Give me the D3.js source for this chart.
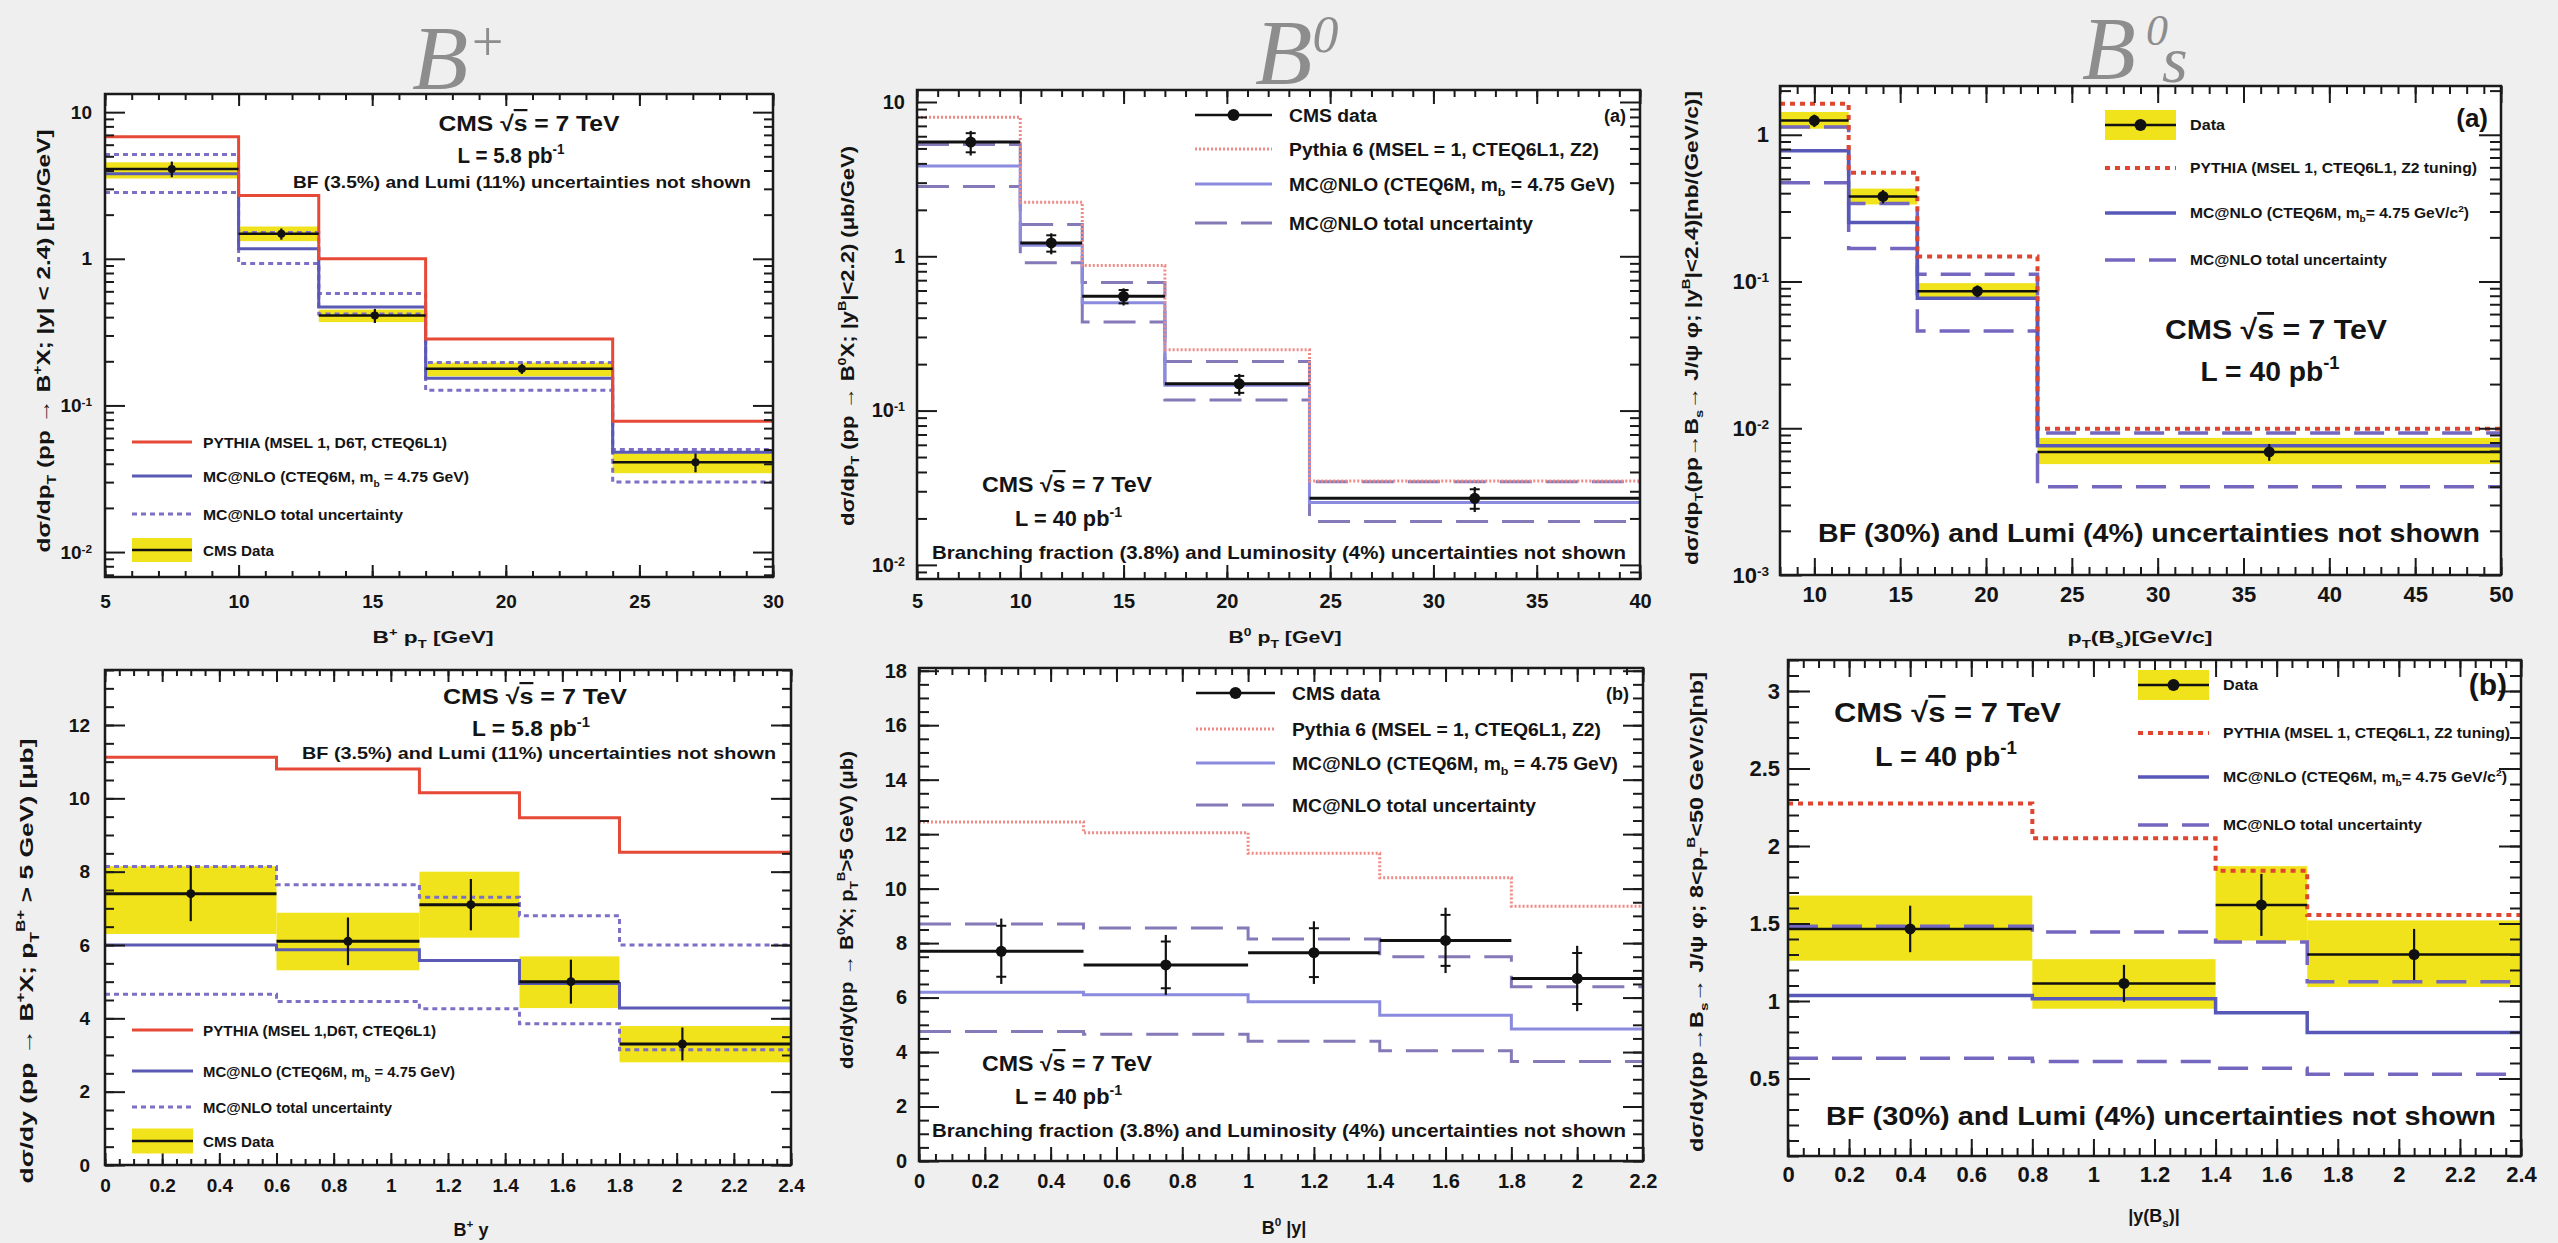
<!DOCTYPE html>
<html>
<head>
<meta charset="utf-8">
<script src="https://cdn.jsdelivr.net/npm/d3@7"></script>
<style>
  html, body { margin: 0; padding: 0; background: #efefef; }
  svg { display: block; }
  text { font-family: "Liberation Sans", Arial, Helvetica, sans-serif; font-weight: bold; fill: #141414; }
  text.ptitle { font-family: "Liberation Serif", "Times New Roman", serif; font-style: italic; font-weight: normal; fill: #8d8d8d; }
</style>
</head>
<body>
<svg id="chart" width="2558" height="1243"></svg>
<script>
// CMS B-meson cross sections: B+, B0, Bs vs pT (top) and vs rapidity (bottom).
// Values.

// ---- B+ vs pT ----
const bpPtEdges = [5, 10, 13, 17, 24, 30];
const bpPtPythia = [6.8, 2.7, 1.0, 0.284, 0.078];
const bpPtNlo = [3.8, 1.17, 0.47, 0.153, 0.048];
const bpPtNloUp = [5.15, 1.51, 0.58, 0.196, 0.050];
const bpPtNloDn = [2.83, 0.93, 0.42, 0.127, 0.030];
const bpPtX = [7.5, 11.6, 15.1, 20.6, 27.1];
const bpPtData = [4.1, 1.48, 0.41, 0.178, 0.041];
const bpPtErr = [0.5, 0.13, 0.045, 0.014, 0.006];
const bpPtSysDn = [3.53, 1.32, 0.37, 0.158, 0.0345];
const bpPtSysUp = [4.55, 1.66, 0.45, 0.196, 0.047];

// ---- B0 vs pT ----
const b0PtEdges = [5, 10, 13, 17, 24, 40];
const b0PtPythia = [7.95, 2.24, 0.87, 0.248, 0.0349];
const b0PtNlo = [3.85, 1.18, 0.50, 0.146, 0.0254];
const b0PtNloUp = [5.3, 1.61, 0.676, 0.208, 0.0346];
const b0PtNloDn = [2.83, 0.908, 0.375, 0.117, 0.0191];
const b0PtX = [7.6, 11.5, 15.0, 20.6, 32.0];
const b0PtData = [5.5, 1.22, 0.55, 0.149, 0.027];
const b0PtErr = [1.0, 0.19, 0.07, 0.024, 0.005];

// ---- Bs vs pT ----
const bsPtEdges = [8, 12, 16, 23, 50];
const bsPtPythia = [1.63, 0.552, 0.148, 0.00994];
const bsPtNlo = [0.778, 0.252, 0.077, 0.0076];
const bsPtNloUp = [1.13, 0.34, 0.112, 0.0093];
const bsPtNloDn = [0.472, 0.168, 0.046, 0.0040];
const bsPtX = [10, 14, 19.5, 36.5];
const bsPtData = [1.25, 0.38, 0.086, 0.0069];
const bsPtErr = [0.12, 0.04, 0.008, 0.0009];
const bsPtSysDn = [1.10, 0.335, 0.076, 0.0057];
const bsPtSysUp = [1.43, 0.43, 0.0975, 0.0086];

// ---- B+ vs y ----
const bpYEdges = [0, 0.6, 1.1, 1.45, 1.8, 2.4];
const bpYPythia = [11.12, 10.8, 10.15, 9.47, 8.53];
const bpYNlo = [6.0, 5.87, 5.58, 4.95, 4.28];
const bpYNloUp = [8.14, 7.64, 7.3, 6.8, 6.0];
const bpYNloDn = [4.66, 4.46, 4.26, 3.85, 3.14];
const bpYX = [0.3, 0.85, 1.28, 1.63, 2.02];
const bpYData = [7.4, 6.1, 7.1, 5.0, 3.3];
const bpYErr = [0.75, 0.65, 0.7, 0.6, 0.45];
const bpYSysDn = [6.3, 5.31, 6.2, 4.28, 2.8];
const bpYSysUp = [8.15, 6.88, 8.0, 5.69, 3.79];

// ---- B0 vs |y| ----
const b0YEdges = [0, 0.5, 1.0, 1.4, 1.8, 2.2];
const b0YPythia = [12.45, 12.05, 11.3, 10.4, 9.35];
const b0YNlo = [6.2, 6.1, 5.85, 5.35, 4.85];
const b0YNloUp = [8.7, 8.55, 8.15, 7.5, 6.4];
const b0YNloDn = [4.75, 4.65, 4.4, 4.05, 3.65];
const b0YX = [0.25, 0.75, 1.2, 1.6, 2.0];
const b0YData = [7.7, 7.2, 7.65, 8.1, 6.7];
const b0YErr = [1.2, 1.1, 1.15, 1.2, 1.2];

// ---- Bs vs |y| ----
const bsYEdges = [0, 0.8, 1.4, 1.7, 2.4];
const bsYPythia = [2.275, 2.05, 1.84, 1.555];
const bsYNlo = [1.036, 1.015, 0.925, 0.797];
const bsYNloUp = [1.483, 1.445, 1.38, 1.124];
const bsYNloDn = [0.63, 0.609, 0.566, 0.527];
const bsYX = [0.4, 1.1, 1.55, 2.05];
const bsYData = [1.465, 1.113, 1.62, 1.30];
const bsYErr = [0.15, 0.12, 0.2, 0.165];
const bsYSysDn = [1.26, 0.95, 1.39, 1.09];
const bsYSysUp = [1.68, 1.27, 1.87, 1.52];

const svg = d3.select('#chart');
const YELLOW = '#f1e31b';

// Build text with ^{sup}, _{sub} and ~{overline} pieces
function richText(sel, str, size) {
  const parts = str.split(/(\^\{[^}]*\}|_\{[^}]*\}|~\{[^}]*\})/).filter(s => s.length);
  let shift = 0;
  parts.forEach(s => {
    let target = 0, fs = size, t = s, deco = null;
    if (s.startsWith('^{')) { t = s.slice(2, -1); target = -0.42 * size; fs = 0.65 * size; }
    else if (s.startsWith('_{')) { t = s.slice(2, -1); target = 0.3 * size; fs = 0.65 * size; }
    else if (s.startsWith('~{')) { t = s.slice(2, -1); deco = 'overline'; }
    const ts = sel.append('tspan').attr('font-size', fs).text(t);
    if (target - shift !== 0) ts.attr('dy', target - shift);
    if (deco) ts.style('text-decoration', deco);
    shift = target;
  });
}

function label(parent, x, y, str, size, opt = {}) {
  const t = parent.append('text')
    .attr('x', x).attr('y', y)
    .attr('font-size', size)
    .attr('text-anchor', opt.anchor || 'start');
  if (opt.rotate) t.attr('transform', `rotate(-90,${x},${y})`);
  richText(t, str, size);
  if (opt.width) t.attr('textLength', opt.width).attr('lengthAdjust', 'spacingAndGlyphs');
  return t;
}

function steps(a, b, s) {
  const n = Math.round((b - a) / s);
  return d3.range(0, n + 1).map(i => +(a + i * s).toFixed(6));
}

function logMajor(dom) {
  const out = [];
  for (let e = Math.ceil(Math.log10(dom[0]) - 1e-9); e <= Math.floor(Math.log10(dom[1]) + 1e-9); e++) out.push(Math.pow(10, e));
  return out;
}

function logMinor(dom) {
  const out = [];
  for (let e = Math.floor(Math.log10(dom[0])); e <= Math.ceil(Math.log10(dom[1])); e++) {
    for (let k = 2; k <= 9; k++) {
      const v = k * Math.pow(10, e);
      if (v >= dom[0] && v <= dom[1]) out.push(v);
    }
  }
  return out;
}

function drawPanel(cfg) {
  const [x0, y0, x1, y1] = cfg.frame;
  const x = d3.scaleLinear().domain(cfg.xDomain).range([x0, x1]);
  const y = (cfg.yLog ? d3.scaleLog() : d3.scaleLinear()).domain(cfg.yDomain).range([y1, y0]).clamp(true);
  const g = svg.append('g');
  g.append('rect').attr('x', x0).attr('y', y0).attr('width', x1 - x0).attr('height', y1 - y0).attr('fill', '#fff');
  const plot = g.append('g');
  const axes = g.append('g');
  const p = { x, y, g, plot, axes, cfg };
  drawAxes(p);
  return p;
}

function drawAxes(p) {
  const { x, y, axes, cfg } = p;
  const [x0, y0, x1, y1] = cfg.frame;
  const xMaj = cfg.xMajor, xMin = cfg.xMinor;
  const yMaj = cfg.yLog ? logMajor(cfg.yDomain) : cfg.yMajor;
  const yMin = cfg.yLog ? logMinor(cfg.yDomain) : cfg.yMinor;
  const fmt = d => String(+d.toFixed(2));

  axes.append('g').attr('transform', `translate(0,${y1})`)
    .call(d3.axisBottom(x).tickValues(xMaj).tickSize(-cfg.xTick[0]).tickPadding(cfg.xPad).tickFormat(fmt));
  axes.append('g').attr('transform', `translate(0,${y1})`)
    .call(d3.axisBottom(x).tickValues(xMin).tickSize(-cfg.xTick[1]).tickFormat(''));
  axes.append('g').attr('transform', `translate(0,${y0})`)
    .call(d3.axisTop(x).tickValues(xMaj).tickSize(-cfg.xTick[0]).tickFormat(''));
  axes.append('g').attr('transform', `translate(0,${y0})`)
    .call(d3.axisTop(x).tickValues(xMin).tickSize(-cfg.xTick[1]).tickFormat(''));

  const left = axes.append('g').attr('transform', `translate(${x0},0)`)
    .call(d3.axisLeft(y).tickValues(yMaj).tickSize(-cfg.yTick[0]).tickPadding(cfg.yPad).tickFormat(fmt));
  axes.append('g').attr('transform', `translate(${x0},0)`)
    .call(d3.axisLeft(y).tickValues(yMin).tickSize(-cfg.yTick[1]).tickFormat(''));
  axes.append('g').attr('transform', `translate(${x1},0)`)
    .call(d3.axisRight(y).tickValues(yMaj).tickSize(-cfg.yTick[0]).tickFormat(''));
  axes.append('g').attr('transform', `translate(${x1},0)`)
    .call(d3.axisRight(y).tickValues(yMin).tickSize(-cfg.yTick[1]).tickFormat(''));

  axes.selectAll('.domain').remove();
  axes.selectAll('g').attr('font-family', null).attr('font-size', null);
  axes.selectAll('line').attr('stroke', '#1a1a1a').attr('stroke-width', 2);
  axes.selectAll('.tick text').attr('fill', '#141414').attr('font-size', cfg.labelSize);

  if (cfg.yLog) {
    left.selectAll('.tick text').each(function(d) {
      const e = Math.round(Math.log10(d));
      if (e === 0 || e === 1) return;
      const t = d3.select(this).text('');
      t.append('tspan').text('10');
      t.append('tspan').attr('dy', '-0.5em').attr('font-size', cfg.labelSize * 0.62).text(String(e));
    });
  }

  axes.append('rect').attr('x', x0).attr('y', y0).attr('width', x1 - x0).attr('height', y1 - y0)
    .attr('fill', 'none').attr('stroke', '#1a1a1a').attr('stroke-width', 2.5);
}

function histo(p, edges, vals, st) {
  const pts = edges.map((e, i) => [e, vals[Math.min(i, vals.length - 1)]]);
  const line = d3.line().x(d => p.x(d[0])).y(d => p.y(d[1])).curve(d3.curveStepAfter);
  p.plot.append('path').attr('d', line(pts))
    .attr('fill', 'none').attr('stroke', st.color).attr('stroke-width', st.width)
    .attr('stroke-dasharray', st.dash || null);
}

function bands(p, edges, lo, hi) {
  p.plot.append('g').selectAll('rect').data(lo).join('rect')
    .attr('x', (d, i) => p.x(edges[i]))
    .attr('width', (d, i) => p.x(edges[i + 1]) - p.x(edges[i]))
    .attr('y', (d, i) => p.y(hi[i]))
    .attr('height', (d, i) => p.y(lo[i]) - p.y(hi[i]))
    .attr('fill', YELLOW);
}

function points(p, edges, xs, vals, errs, opt) {
  const g = p.plot.append('g');
  g.selectAll('line.bin').data(vals).join('line').attr('class', 'bin')
    .attr('x1', (d, i) => p.x(edges[i])).attr('x2', (d, i) => p.x(edges[i + 1]))
    .attr('y1', d => p.y(d)).attr('y2', d => p.y(d))
    .attr('stroke', '#111').attr('stroke-width', opt.lineW);
  g.selectAll('line.err').data(vals).join('line').attr('class', 'err')
    .attr('x1', (d, i) => p.x(xs[i])).attr('x2', (d, i) => p.x(xs[i]))
    .attr('y1', (d, i) => p.y(d + errs[i])).attr('y2', (d, i) => p.y(d - errs[i]))
    .attr('stroke', '#111').attr('stroke-width', 2.2);
  if (opt.caps) {
    [0.78, -0.78].forEach(f => {
      g.selectAll(null).data(vals).join('line')
        .attr('x1', (d, i) => p.x(xs[i]) - 5).attr('x2', (d, i) => p.x(xs[i]) + 5)
        .attr('y1', (d, i) => p.y(d + f * errs[i])).attr('y2', (d, i) => p.y(d + f * errs[i]))
        .attr('stroke', '#111').attr('stroke-width', 2);
    });
  }
  g.selectAll('circle').data(vals).join('circle')
    .attr('cx', (d, i) => p.x(xs[i])).attr('cy', d => p.y(d)).attr('r', opt.r)
    .attr('fill', '#111');
}

// legend sample helpers
function legLine(parent, xa, xb, y, st) {
  parent.append('line').attr('x1', xa).attr('x2', xb).attr('y1', y).attr('y2', y)
    .attr('stroke', st.color).attr('stroke-width', st.width).attr('stroke-dasharray', st.dash || null);
}
function legData(parent, xa, xb, y, h, box, r) {
  if (box) parent.append('rect').attr('x', xa).attr('y', y - h / 2).attr('width', xb - xa).attr('height', h).attr('fill', YELLOW);
  legLine(parent, xa, xb, y, { color: '#111', width: 2.5 });
  if (r) parent.append('circle').attr('cx', (xa + xb) / 2).attr('cy', y).attr('r', r).attr('fill', '#111');
}

// ---- styles ----
const stRedA = { color: '#e64a36', width: 3 };
const stBlueA = { color: '#5a5ab4', width: 3 };
const stDotA = { color: '#7d6fc6', width: 3, dash: '5,4' };
const stRedB = { color: '#ef8a86', width: 3, dash: '2,2' };
const stBlueB = { color: '#8a8ade', width: 3 };
const stDashB = { color: '#8679b8', width: 3, dash: '32,14' };
const stRedC = { color: '#e0452f', width: 4, dash: '5,5' };
const stBlueC = { color: '#5858b8', width: 3.5 };
const stDashC = { color: '#7467c0', width: 3.5, dash: '30,14' };

// ---- page titles ----
const tB1 = svg.append('text').attr('class', 'ptitle').attr('x', 412).attr('y', 89).attr('font-size', 92).text('B');
tB1.append('tspan').attr('dy', -28).attr('font-size', 56).text('+');
const tB2 = svg.append('text').attr('class', 'ptitle').attr('x', 1255).attr('y', 84).attr('font-size', 94).text('B');
tB2.append('tspan').attr('dy', -32).attr('font-size', 52).text('0');
svg.append('text').attr('class', 'ptitle').attr('x', 2082).attr('y', 78).attr('font-size', 88).text('B');
svg.append('text').attr('class', 'ptitle').attr('x', 2146).attr('y', 45).attr('font-size', 44).text('0');
svg.append('text').attr('class', 'ptitle').attr('x', 2162).attr('y', 82).attr('font-size', 66).text('s');

// ================= Top-left: B+ vs pT =================
{
  const p = drawPanel({
    frame: [105, 94, 773, 577], xDomain: [5, 30], yDomain: [0.00676, 13.3], yLog: true,
    xMajor: steps(5, 30, 5), xMinor: steps(5, 30, 1),
    xTick: [12, 6], yTick: [20, 9], xPad: 18, yPad: 13, labelSize: 19
  });
  bands(p, bpPtEdges, bpPtSysDn, bpPtSysUp);
  histo(p, bpPtEdges, bpPtNloUp, stDotA);
  histo(p, bpPtEdges, bpPtNloDn, stDotA);
  histo(p, bpPtEdges, bpPtNlo, stBlueA);
  histo(p, bpPtEdges, bpPtPythia, stRedA);
  points(p, bpPtEdges, bpPtX, bpPtData, bpPtErr, { lineW: 2.5, r: 4 });
  const t = p.g;
  label(t, 529, 131, 'CMS √~{s} = 7 TeV', 22, { anchor: 'middle', width: 181 });
  label(t, 511, 163, 'L = 5.8 pb^{-1}', 22, { anchor: 'middle', width: 107 });
  label(t, 293, 188, 'BF (3.5%) and Lumi (11%) uncertainties not shown', 17, { width: 458 });
  legLine(t, 132, 192, 442, stRedA);
  label(t, 203, 448, 'PYTHIA (MSEL 1, D6T, CTEQ6L1)', 15, { width: 244 });
  legLine(t, 132, 192, 476, stBlueA);
  label(t, 203, 482, 'MC@NLO (CTEQ6M, m_{b} = 4.75 GeV)', 15, { width: 266 });
  legLine(t, 132, 192, 514, stDotA);
  label(t, 203, 520, 'MC@NLO total uncertainty', 15, { width: 200 });
  legData(t, 132, 192, 550, 24, true, 0);
  label(t, 203, 556, 'CMS Data', 15, { width: 71 });
  label(svg, 433, 643, 'B^{+} p_{T} [GeV]', 17, { anchor: 'middle', width: 121 });
  label(svg, 50, 341, 'dσ/dp_{T} (pp → B^{+}X; |y| < 2.4) [μb/GeV]', 19, { anchor: 'middle', rotate: true, width: 423 });
}

// ================= Top-middle: B0 vs pT =================
{
  const p = drawPanel({
    frame: [917, 90, 1640, 579], xDomain: [5, 40], yDomain: [0.0081, 11.96], yLog: true,
    xMajor: steps(5, 40, 5), xMinor: steps(5, 40, 1),
    xTick: [14, 7], yTick: [20, 10], xPad: 15, yPad: 12, labelSize: 20
  });
  histo(p, b0PtEdges, b0PtNloUp, stDashB);
  histo(p, b0PtEdges, b0PtNloDn, stDashB);
  histo(p, b0PtEdges, b0PtNlo, stBlueB);
  histo(p, b0PtEdges, b0PtPythia, stRedB);
  points(p, b0PtEdges, b0PtX, b0PtData, b0PtErr, { lineW: 3, r: 5.5, caps: true });
  const t = p.g;
  legData(t, 1195, 1272, 115, 0, false, 6);
  label(t, 1289, 122, 'CMS data', 18, { width: 88 });
  legLine(t, 1195, 1272, 149, stRedB);
  label(t, 1289, 156, 'Pythia 6 (MSEL = 1, CTEQ6L1, Z2)', 18, { width: 310 });
  legLine(t, 1195, 1272, 184, stBlueB);
  label(t, 1289, 191, 'MC@NLO (CTEQ6M, m_{b} = 4.75 GeV)', 18, { width: 326 });
  legLine(t, 1195, 1272, 223, stDashB);
  label(t, 1289, 230, 'MC@NLO total uncertainty', 18, { width: 244 });
  label(t, 1626, 122, '(a)', 18, { anchor: 'end' });
  label(t, 982, 492, 'CMS  √~{s} = 7 TeV', 22, { width: 170 });
  label(t, 1015, 526, 'L = 40 pb^{-1}', 22, { width: 107 });
  label(t, 932, 559, 'Branching fraction (3.8%) and Luminosity (4%) uncertainties not shown', 19, { width: 694 });
  label(svg, 1285, 643, 'B^{0} p_{T} [GeV]', 17, { anchor: 'middle', width: 113 });
  label(svg, 854, 336, 'dσ/dp_{T} (pp → B^{0}X; |y^{B}|<2.2) (μb/GeV)', 18, { anchor: 'middle', rotate: true, width: 380 });
}

// ================= Top-right: Bs vs pT =================
{
  const p = drawPanel({
    frame: [1780, 86, 2501, 575], xDomain: [8, 50], yDomain: [0.001, 2.15], yLog: true,
    xMajor: steps(10, 50, 5), xMinor: steps(8, 50, 1),
    xTick: [17, 8], yTick: [22, 11], xPad: 11, yPad: 11, labelSize: 22
  });
  bands(p, bsPtEdges, bsPtSysDn, bsPtSysUp);
  histo(p, bsPtEdges, bsPtNloUp, stDashC);
  histo(p, bsPtEdges, bsPtNloDn, stDashC);
  histo(p, bsPtEdges, bsPtNlo, stBlueC);
  histo(p, bsPtEdges, bsPtPythia, stRedC);
  points(p, bsPtEdges, bsPtX, bsPtData, bsPtErr, { lineW: 2.5, r: 5.5 });
  const t = p.g;
  legData(t, 2105, 2176, 125, 30, true, 6);
  label(t, 2190, 130, 'Data', 14, { width: 35 });
  legLine(t, 2105, 2176, 168, stRedC);
  label(t, 2190, 173, 'PYTHIA (MSEL 1, CTEQ6L1, Z2 tuning)', 14, { width: 287 });
  legLine(t, 2105, 2176, 213, stBlueC);
  label(t, 2190, 218, 'MC@NLO (CTEQ6M, m_{b}= 4.75 GeV/c^{2})', 14, { width: 279 });
  legLine(t, 2105, 2176, 260, stDashC);
  label(t, 2190, 265, 'MC@NLO total uncertainty', 14, { width: 197 });
  label(t, 2488, 127, '(a)', 26, { anchor: 'end' });
  label(t, 2276, 339, 'CMS  √~{s} = 7 TeV', 28, { anchor: 'middle', width: 222 });
  label(t, 2270, 381, 'L = 40 pb^{-1}', 28, { anchor: 'middle', width: 139 });
  label(t, 1818, 542, 'BF (30%) and Lumi (4%) uncertainties not shown', 26, { width: 662 });
  label(svg, 2140, 643, 'p_{T}(B_{s})[GeV/c]', 17, { anchor: 'middle', width: 145 });
  label(svg, 1698, 328, 'dσ/dp_{T}(pp→B_{s}→ J/ψ φ; |y^{B}|<2.4)[nb/(GeV/c)]', 18, { anchor: 'middle', rotate: true, width: 474 });
}

// ================= Bottom-left: B+ vs y =================
{
  const p = drawPanel({
    frame: [105, 670, 791, 1165], xDomain: [0, 2.4], yDomain: [0, 13.5], yLog: false,
    xMajor: steps(0, 2.4, 0.2), xMinor: steps(0, 2.4, 0.05),
    yMajor: steps(0, 12, 2), yMinor: steps(0, 13.5, 0.5),
    xTick: [12, 6], yTick: [20, 9], xPad: 14, yPad: 15, labelSize: 19
  });
  bands(p, bpYEdges, bpYSysDn, bpYSysUp);
  histo(p, bpYEdges, bpYNloUp, stDotA);
  histo(p, bpYEdges, bpYNloDn, stDotA);
  histo(p, bpYEdges, bpYNlo, stBlueA);
  histo(p, bpYEdges, bpYPythia, stRedA);
  points(p, bpYEdges, bpYX, bpYData, bpYErr, { lineW: 3, r: 4.5 });
  const t = p.g;
  label(t, 535, 704, 'CMS √~{s} = 7 TeV', 22, { anchor: 'middle', width: 184 });
  label(t, 531, 736, 'L = 5.8 pb^{-1}', 22, { anchor: 'middle', width: 118 });
  label(t, 302, 759, 'BF (3.5%) and Lumi (11%) uncertainties not shown', 17, { width: 474 });
  legLine(t, 132, 193, 1030, stRedA);
  label(t, 203, 1036, 'PYTHIA (MSEL 1,D6T,  CTEQ6L1)', 15, { width: 233 });
  legLine(t, 132, 193, 1071, stBlueA);
  label(t, 203, 1077, 'MC@NLO (CTEQ6M, m_{b} = 4.75 GeV)', 15, { width: 252 });
  legLine(t, 132, 193, 1107, stDotA);
  label(t, 203, 1113, 'MC@NLO total uncertainty', 15, { width: 189 });
  legData(t, 132, 193, 1141, 25, true, 0);
  label(t, 203, 1147, 'CMS Data', 15, { width: 71 });
  label(svg, 471, 1236, 'B^{+} y', 18, { anchor: 'middle' });
  label(svg, 33, 961, 'dσ/dy (pp → B^{+}X; p_{T}^{B+} > 5 GeV) [μb]', 19, { anchor: 'middle', rotate: true, width: 445 });
}

// ================= Bottom-middle: B0 vs |y| =================
{
  const p = drawPanel({
    frame: [919, 668, 1643, 1161], xDomain: [0, 2.2], yDomain: [0, 18.1], yLog: false,
    xMajor: steps(0, 2.2, 0.2), xMinor: steps(0, 2.2, 0.05),
    yMajor: steps(0, 18, 2), yMinor: steps(0, 18, 0.5),
    xTick: [14, 7], yTick: [20, 10], xPad: 13, yPad: 12, labelSize: 20
  });
  histo(p, b0YEdges, b0YNloUp, stDashB);
  histo(p, b0YEdges, b0YNloDn, stDashB);
  histo(p, b0YEdges, b0YNlo, stBlueB);
  histo(p, b0YEdges, b0YPythia, stRedB);
  points(p, b0YEdges, b0YX, b0YData, b0YErr, { lineW: 3, r: 5.5, caps: true });
  const t = p.g;
  legData(t, 1196, 1275, 693, 0, false, 6);
  label(t, 1292, 700, 'CMS data', 18, { width: 88 });
  legLine(t, 1196, 1275, 729, stRedB);
  label(t, 1292, 736, 'Pythia 6 (MSEL = 1, CTEQ6L1, Z2)', 18, { width: 309 });
  legLine(t, 1196, 1275, 763, stBlueB);
  label(t, 1292, 770, 'MC@NLO (CTEQ6M, m_{b} = 4.75 GeV)', 18, { width: 326 });
  legLine(t, 1196, 1275, 805, stDashB);
  label(t, 1292, 812, 'MC@NLO total uncertainty', 18, { width: 244 });
  label(t, 1629, 700, '(b)', 18, { anchor: 'end' });
  label(t, 982, 1071, 'CMS  √~{s} = 7 TeV', 22, { width: 170 });
  label(t, 1015, 1104, 'L = 40 pb^{-1}', 22, { width: 107 });
  label(t, 932, 1137, 'Branching fraction (3.8%) and Luminosity (4%) uncertainties not shown', 19, { width: 694 });
  label(svg, 1284, 1234, 'B^{0} |y|', 18, { anchor: 'middle' });
  label(svg, 853, 910, 'dσ/dy(pp → B^{0}X; p_{T}^{B}>5 GeV) (μb)', 18, { anchor: 'middle', rotate: true, width: 318 });
}

// ================= Bottom-right: Bs vs |y| =================
{
  const p = drawPanel({
    frame: [1788, 660, 2521, 1156], xDomain: [0, 2.4], yDomain: [0, 3.2], yLog: false,
    xMajor: steps(0, 2.4, 0.2), xMinor: steps(0, 2.4, 0.05),
    yMajor: steps(0.5, 3, 0.5), yMinor: steps(0, 3.2, 0.1),
    xTick: [17, 8], yTick: [22, 11], xPad: 10, yPad: 8, labelSize: 22
  });
  bands(p, bsYEdges, bsYSysDn, bsYSysUp);
  histo(p, bsYEdges, bsYNloUp, stDashC);
  histo(p, bsYEdges, bsYNloDn, stDashC);
  histo(p, bsYEdges, bsYNlo, stBlueC);
  histo(p, bsYEdges, bsYPythia, stRedC);
  points(p, bsYEdges, bsYX, bsYData, bsYErr, { lineW: 2.5, r: 5.5 });
  const t = p.g;
  legData(t, 2138, 2209, 685, 30, true, 6);
  label(t, 2223, 690, 'Data', 14, { width: 35 });
  legLine(t, 2138, 2209, 733, stRedC);
  label(t, 2223, 738, 'PYTHIA (MSEL 1, CTEQ6L1, Z2 tuning)', 14, { width: 287 });
  legLine(t, 2138, 2209, 777, stBlueC);
  label(t, 2223, 782, 'MC@NLO (CTEQ6M, m_{b}= 4.75 GeV/c^{2})', 14, { width: 284 });
  legLine(t, 2138, 2209, 825, stDashC);
  label(t, 2223, 830, 'MC@NLO total uncertainty', 14, { width: 199 });
  label(t, 2507, 695, '(b)', 30, { anchor: 'end' });
  label(t, 1834, 722, 'CMS  √~{s} = 7 TeV', 28, { width: 227 });
  label(t, 1875, 766, 'L = 40 pb^{-1}', 28, { width: 142 });
  label(t, 1826, 1125, 'BF (30%) and Lumi (4%) uncertainties not shown', 26, { width: 670 });
  label(svg, 2154, 1222, '|y(B_{s})|', 18, { anchor: 'middle' });
  label(svg, 1703, 912, 'dσ/dy(pp→B_{s}→ J/ψ φ; 8<p_{T}^{B}<50 GeV/c)[nb]', 18, { anchor: 'middle', rotate: true, width: 480 });
}
</script>
</body>
</html>
